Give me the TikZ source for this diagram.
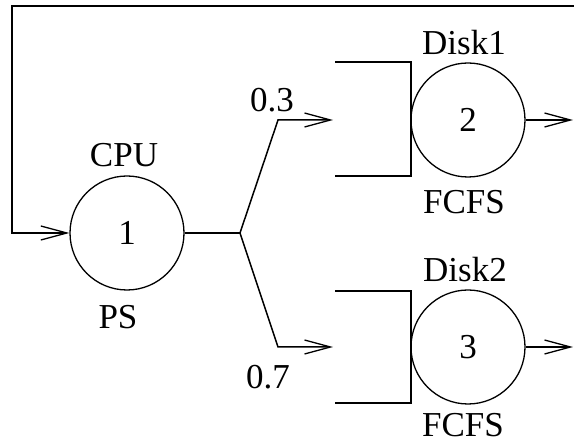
\documentclass[tikz,border=0pt]{standalone}
\usepackage{fontspec}
\setmainfont{Liberation Serif}
\usetikzlibrary{arrows.meta}
\begin{document}
\begin{tikzpicture}[x=1pt,y=-1pt,
  every node/.style={font=\fontsize{35}{40}\selectfont, inner sep=0pt},
  station/.style={draw, circle, minimum size=114pt, line width=1.3pt},
  wire/.style={line width=1.5pt},
  arr/.style={wire, -{Straight Barb[length=26pt,width=14pt,line width=1.3pt]}},
  lbl/.style={anchor=center}]
\useasboundingbox (0,0) rectangle (574,446);
% stations
\node[station] (cpu) at (127,233) {1};
\node[station] (d1) at (468,120) {2};
\node[station] (d2) at (468,347) {3};
% labels
\node[lbl] (cpul) at (124,155) {CPU};
\node[lbl] (psl) at (118,317) {PS};
\node[lbl] (d1l) at (464,43) {Disk1};
\node[lbl] (d1s) at (464,202) {FCFS};
\node[lbl] (d2l) at (465,270) {Disk2};
\node[lbl] (d2s) at (463,425) {FCFS};
\node[lbl] (p3) at (272,100) {0.3};
\node[lbl] (p7) at (268,377) {0.7};
% coordinates
\coordinate (loopin) at (574,6);
\coordinate (loopc1) at (12,6);
\coordinate (loopc2) at (12,233);
\coordinate (br) at (240,233);
\coordinate (up) at (278,120);
\coordinate (dn) at (278,347);
\coordinate (q1in) at (333,120);
\coordinate (q2in) at (333,347);
\coordinate (o1) at (573,120);
\coordinate (o2) at (573,347);
% queues
\draw[wire] (335,62) -- (411,62) -- (411,176) -- (335,176);
\draw[wire] (335,291) -- (411,291) -- (411,403) -- (335,403);
% connectors
\draw[arr] (loopin) -- (loopc1) -- (loopc2) -- (cpu.west);
\draw[wire] (cpu.east) -- (br);
\draw[arr] (br) -- (up) -- (q1in);
\draw[arr] (br) -- (dn) -- (q2in);
\draw[arr] (d1.east) -- (o1);
\draw[arr] (d2.east) -- (o2);
\end{tikzpicture}
\end{document}
